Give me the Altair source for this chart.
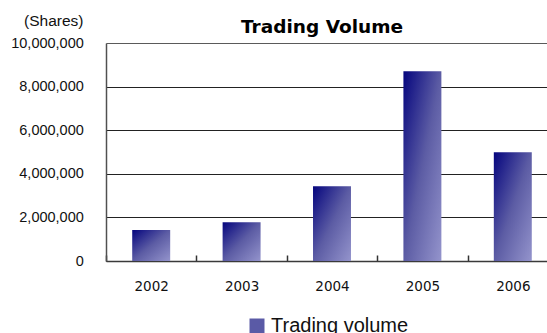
import altair as alt
import pandas as pd

# Annual trading volume (shares)
years = ["2002", "2003", "2004", "2005", "2006"]
volumes = [1420000, 1780000, 3430000, 8700000, 4990000]
series_name = "Trading volume"
y_ticks = [0, 2000000, 4000000, 6000000, 8000000, 10000000]

df = pd.DataFrame({"year": years, "volume": volumes, "series": series_name})

bar_fill = alt.Gradient(
    gradient="linear",
    x1=0, y1=0, x2=1, y2=1,
    stops=[
        alt.GradientStop(color="#05057e", offset=0),
        alt.GradientStop(color="#5c5ca4", offset=0.5),
        alt.GradientStop(color="#9494cc", offset=1),
    ],
)

step = 90.4

x_enc = alt.X(
    "year:N",
    sort=years,
    title=None,
    scale=alt.Scale(range=[0, 5 * step], paddingInner=0.58, paddingOuter=0.29),
    axis=alt.Axis(
        labelAngle=0,
        labelFont="DejaVu Sans",
        labelFontSize=13.5,
        labelColor="#111111",
        labelPadding=24,
        labelOffset=step / 2,
        tickOffset=-step / 2,
        tickSize={"expr": "-6"},
        tickColor="#333333",
        tickWidth=1.5,
        domainColor="#3a3a3a",
        domainWidth=1.5,
        grid=False,
    ),
)

y_enc = alt.Y(
    "volume:Q",
    scale=alt.Scale(domain=[0, 10000000], nice=False),
    axis=alt.Axis(
        values=y_ticks,
        format=",d",
        title="(Shares)",
        titleAngle=0,
        titleAlign="right",
        titleBaseline="alphabetic",
        titleX=-23,
        titleY=-18,
        titleFont="Liberation Sans",
        titleFontSize=15.5,
        titleFontWeight="normal",
        titleColor="#111111",
        labelFont="Liberation Sans",
        labelFontSize=14.5,
        labelColor="#111111",
        labelPadding=22.7,
        ticks=False,
        domainColor="#505050",
        domainWidth=1.5,
        grid=True,
        gridColor=alt.condition("datum.value >= 10000000", alt.value("#5a5a5a"), alt.value("#222222")),
        gridWidth=1,
    ),
)

bars = alt.Chart(df).mark_bar(color=bar_fill).encode(x=x_enc, y=y_enc)

# invisible layer that carries the series legend
key = alt.Chart(df).mark_square(opacity=0).encode(
    x=alt.X("year:N", sort=years),
    y=alt.Y("volume:Q"),
    color=alt.Color(
        "series:N",
        scale=alt.Scale(range=["#5a5aa6"]),
        legend=alt.Legend(
            title=None,
            orient="none",
            legendX=141,
            legendY=273,
            padding=0,
            symbolType="square",
            symbolSize=225,
            symbolStrokeWidth=0,
            symbolOpacity=1,
            labelFont="Liberation Sans",
            labelFontSize=20,
            labelColor="#111111",
            labelOffset=4,
        ),
    ),
)

chart = (
    alt.layer(bars, key)
    .properties(
        width=441,
        height=218,
        autosize=alt.AutoSizeParams(type="none"),
        padding={"left": 106, "top": 43, "right": 0, "bottom": 72},
        title=alt.TitleParams(
            "Trading Volume",
            font="DejaVu Sans",
            fontSize=18.5,
            fontWeight="bold",
            color="#000000",
            anchor="middle",
            baseline="alphabetic",
            offset=11,
            dx=-4.5,
            dy=49.5,
        ),
    )
    .configure_view(stroke=None)
    .configure(background="white")
)

chart.save("out.html", embed_options={"renderer": "svg", "actions": False})
